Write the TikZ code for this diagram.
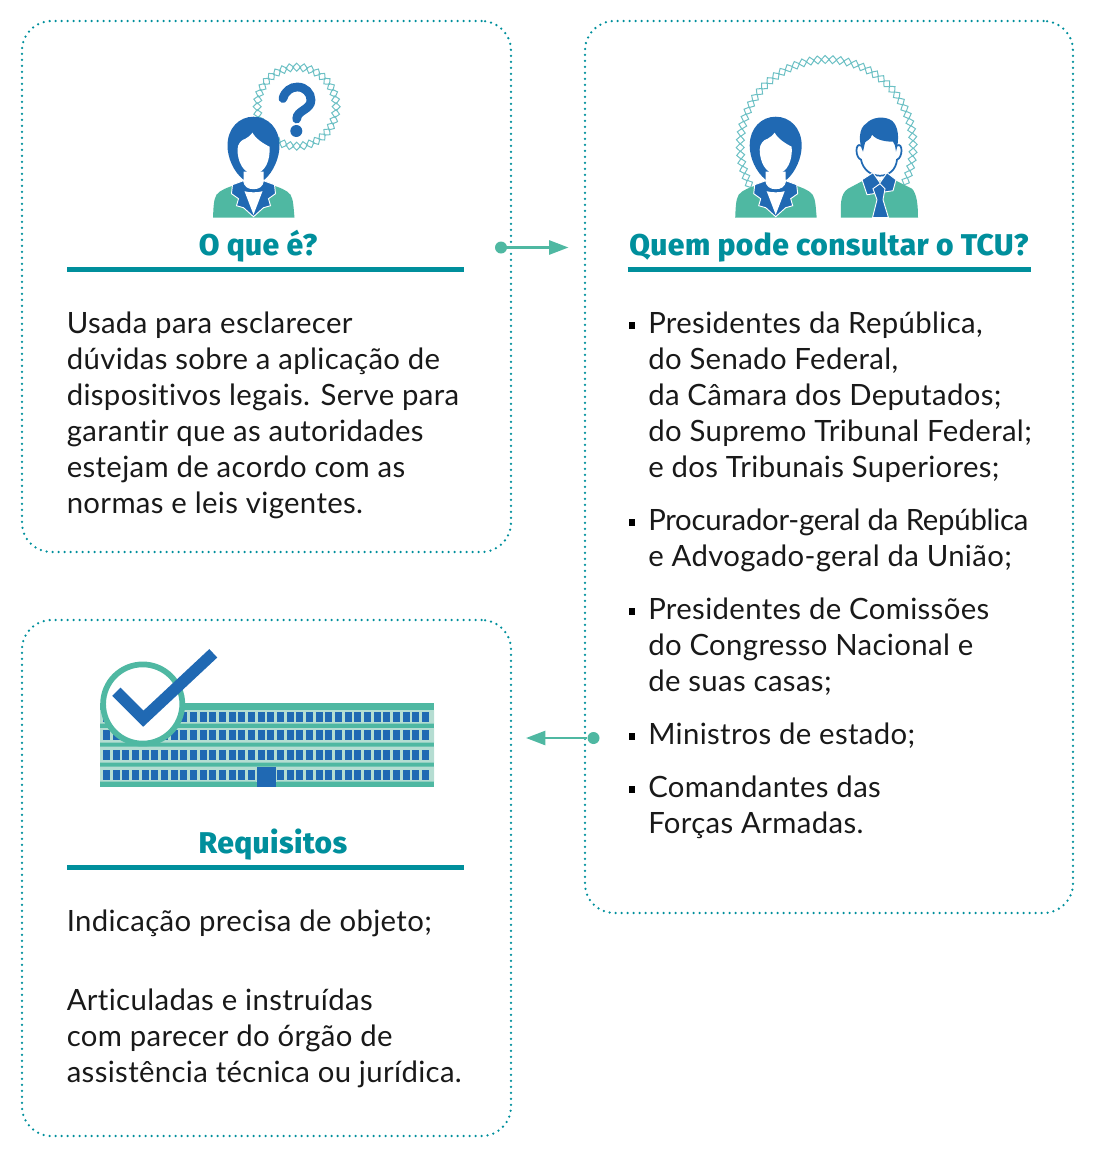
\documentclass[tikz,border=0pt]{standalone}
\usepackage{fontspec}
\setmainfont{Lato}[LetterSpace=1.2,Ligatures=NoCommon]
\newfontfamily\headfont{Fira Sans}[BoldFont={Fira Sans ExtraBold},LetterSpace=1.4]
\usetikzlibrary{arrows.meta}
\definecolor{tcublue}{RGB}{32,105,179}
\definecolor{tcugreen}{RGB}{79,184,162}
\definecolor{tcupale}{RGB}{181,221,210}
\definecolor{tcuteal}{RGB}{0,143,156}
\definecolor{tcuring}{RGB}{108,192,196}
\definecolor{tcutext}{RGB}{25,25,25}
\tikzset{
  cardbox/.style={draw=tcuteal,line width=1.9pt,rounded corners=22pt,dash pattern=on 0pt off 4.5pt,line cap=round,anchor=north west,inner sep=0pt,outer sep=0pt},
  cardhead/.style={font=\headfont\bfseries\fontsize{22.5}{26}\selectfont,text=tcuteal,anchor=base},
  cardrule/.style={draw=tcuteal,line width=3.4pt},
  cardtext/.style={font=\fontsize{22}{27}\selectfont,text=tcutext,align=left,anchor=base west,inner sep=0pt},
  bulletmark/.style={fill=black,minimum size=4.8pt,inner sep=0pt,outer sep=0pt},
  linkdot/.style={circle,fill=tcugreen,minimum size=9pt,inner sep=0pt},
  linkarrow/.style={draw=tcugreen,line width=1.9pt,-{Triangle[length=14.5pt,width=10.5pt]}},
  ringline/.style={draw=tcuring,line width=0.75pt},
}
\newcommand{\ringdiamond}[3]{\draw[ringline,shift={(#1)},rotate=#3,shift={(#2,0)}] (-4,0) -- (0,4) -- (4,0) -- (0,-4) -- cycle;}
\newcommand{\womanicon}[1]{
\begin{scope}[shift={(#1)}]
%Shape: Polygon [jacket]
\fill [tcugreen] (-40.5,0) .. controls (-40,-10) and (-40,-18) .. (-37,-23) .. controls (-33,-28) and (-26,-30) .. (-18,-33) -- (18,-33) .. controls (26,-30) and (33,-28) .. (37,-23) .. controls (40,-18) and (40,-10) .. (41,0) -- cycle ;
%Shape: Polygon [hair]
\fill [tcublue] (-10,-38) .. controls (-20,-46) and (-26,-60) .. (-26,-72) .. controls (-26,-90) and (-14,-101) .. (0,-101) .. controls (14,-101) and (26,-90) .. (26,-72) .. controls (26,-60) and (20,-46) .. (11,-38) -- cycle ;
%Shape: Polygon [neck and shirt]
\fill [white] (-10,-46) -- (10,-46) -- (10,-30) -- (13,-26) -- (0,-2) -- (-13,-26) -- (-10,-30) -- cycle ;
%Shape: Polygon [face]
\fill [white] (-16,-68) .. controls (-16,-74) and (-12,-78) .. (-8,-79) .. controls (-5,-80) and (-3,-83) .. (-1,-85) .. controls (2,-79) and (10,-74) .. (16,-71) .. controls (17,-58) and (12,-44) .. (0,-44) .. controls (-10,-44) and (-16,-56) .. (-16,-68) -- cycle ;
%Shape: Polygon [lapels]
\draw [white,line width=0.7pt,fill=tcublue] (-21,-33) -- (-10,-37) .. controls (-9,-31) and (-5,-29) .. (0,-29) .. controls (5,-29) and (9,-31) .. (10,-37) -- (21,-33) -- (22,-24) -- (15,-19) -- (17,-12) -- (10,-10) -- (0,-1) -- (-10,-10) -- (-17,-12) -- (-15,-19) -- (-22,-24) -- cycle ;
%Shape: Polygon [shirt]
\fill [white] (-9,-26.5) .. controls (-4,-25) and (4,-25) .. (9,-26.5) -- (0,-3) -- cycle ;
\end{scope}
}
\begin{document}
\begin{tikzpicture}[x=0.75pt,y=0.75pt,yscale=-1,xscale=1]
\useasboundingbox (0,0) rectangle (1095,1154);

%Shape: Rectangle [cards]
\node (cardwhat) [cardbox,minimum width=366.75pt,minimum height=398.25pt] at (22,21) {};
\node (cardwho) [cardbox,minimum width=366pt,minimum height=669pt] at (585,21) {};
\node (cardneeds) [cardbox,minimum width=366.75pt,minimum height=387pt] at (22,620) {};

%Shape: Ring [question]
\foreach \ang in {0,10,...,350} {\ringdiamond{296.7,106.7}{39.5}{\ang}}
%Shape: Ring [two people]
\foreach \ang in {-206,-201,...,26} {\ringdiamond{826.7,146}{86.5}{\ang}}

%Straight Lines [question mark]
\draw [tcublue,line width=6.6pt,line cap=round] (283,98.5) .. controls (285,91) and (291,87) .. (297.5,87) .. controls (305,87) and (311,93) .. (311,100) .. controls (311,110) and (297,110) .. (296.7,119) ;
\fill [tcublue] (296.3,131) circle (6) ;

\womanicon{253.5,217.7}
\womanicon{775.7,217.7}

%Shape: Polygon [man]
\begin{scope}[shift={(880,217.7)}]
\fill [tcugreen] (-39,0) .. controls (-39.5,-12) and (-40,-24) .. (-32,-29) -- (-17,-37) -- (16,-37) -- (32,-29) .. controls (37,-24) and (38,-12) .. (38,0) -- cycle ;
\draw [tcublue,line width=1.3pt,fill=white] (-19,-72) .. controls (-25,-76) and (-25,-60) .. (-19,-58) .. controls (-17,-48) and (-9,-42) .. (0,-42) .. controls (9,-42) and (16,-48) .. (17,-58) .. controls (23,-60) and (23,-76) .. (17,-72) ;
\fill [tcublue] (-17,-66) .. controls (-22,-76) and (-21,-90) .. (-14,-94) .. controls (-8,-101) and (5,-102) .. (12,-97) .. controls (18,-92) and (20,-80) .. (16,-66) .. controls (15,-72) and (15,-74) .. (13,-76) .. controls (7,-76) and (-3,-77) .. (-8,-83) .. controls (-9,-78) and (-14,-77) .. (-15,-75) -- cycle ;
\draw [white,line width=0.7pt,fill=tcublue] (-18,-38) -- (-7,-45) -- (0,-35) -- (7,-45) -- (16,-38) -- (13,-27) -- (-13,-23) -- cycle ;
\draw [white,line width=0.7pt,fill=tcublue] (-7,-29) -- (0,-34) -- (5,-29) -- (3,-18) -- (8.5,0) -- (-7.5,0) -- (-3,-18) -- cycle ;
\end{scope}

%Shape: Building [bands]
\fill [tcugreen] (100,703) rectangle (434,787) ;
\fill [tcupale] (100,710) rectangle (434,723.5) (100,728) rectangle (434,742.7) (100,746.7) rectangle (434,762.7) (100,766.7) rectangle (434,781.7) ;
%Shape: Building [windows]
\foreach \rowy in {711.7,730,750,770} {
  \foreach \col in {0,...,33} {
    \fill [tcublue] (103+\col*9.667,\rowy) rectangle ++(7,10) ;
  }
}
\fill [tcupale] (256,767) rectangle (277.4,781.7) ;
\fill [tcublue] (257,766.7) rectangle (276,787) ;

%Shape: Circle [check]
\draw [tcugreen,line width=4.3pt,fill=white] (142.7,704) circle (39.6) ;
%Straight Lines [check]
\draw [tcublue,line width=8.7pt,miter limit=10] (116.3,691.7) -- (143.3,718.7) -- (213.3,653.3) ;

%Links between cards
\node (dotwhat) [linkdot] at (501,247.5) {};
\coordinate (tipwhat) at (568.5,247.5);
\draw [linkarrow] (dotwhat) -- (tipwhat);
\node (dotneeds) [linkdot] at (593.5,738) {};
\coordinate (tipneeds) at (526,738);
\draw [linkarrow] (dotneeds) -- (tipneeds);

%Headings
\node (headwhat) [cardhead] at (258,255) {O que é?};
\draw [cardrule] (67,269.5) -- (464,269.5);
\node (headwho) [cardhead] at (829,255) {Quem pode consultar o TCU?};
\draw [cardrule] (627.5,269.5) -- (1031,269.5);
\node (headneeds) [cardhead] at (273,853) {Requisitos};
\draw [cardrule] (67,867.5) -- (464,867.5);

%Body text
\node (textwhat) [cardtext] at (66.5,513) {Usada para esclarecer\\dúvidas sobre a aplicação de\\dispositivos legais. Serve para\\garantir que as autoridades\\estejam de acordo com as\\normas e leis vigentes.};
\node (itempres) [cardtext] at (648,477) {Presidentes da República,\\do Senado Federal,\\da Câmara dos Deputados;\\do Supremo Tribunal Federal;\\e dos Tribunais Superiores;};
\node (itemproc) [cardtext] at (648,566) {{\addfontfeature{LetterSpace=-0.85}Procurador-geral da República}\\e Advogado-geral da União;};
\node (itemcomm) [cardtext] at (648,691) {Presidentes de Comissões\\do Congresso Nacional e\\de suas casas;};
\node (itemmin) [cardtext] at (648,744) {Ministros de estado;};
\node (itemarmy) [cardtext] at (648,833) {Comandantes das\\Forças Armadas.};
\node (textobj) [cardtext] at (66.5,931) {Indicação precisa de objeto;};
\node (textpar) [cardtext] at (66.5,1082) {Articuladas e instruídas\\com parecer do órgão de\\assistência técnica ou jurídica.};

%Bullets
\foreach \by [count=\n] in {325.5,522.5,611.5,736.5,789.5} {
  \node (bullet\n) [bulletmark] at (632,\by) {};
}
\end{tikzpicture}
\end{document}
